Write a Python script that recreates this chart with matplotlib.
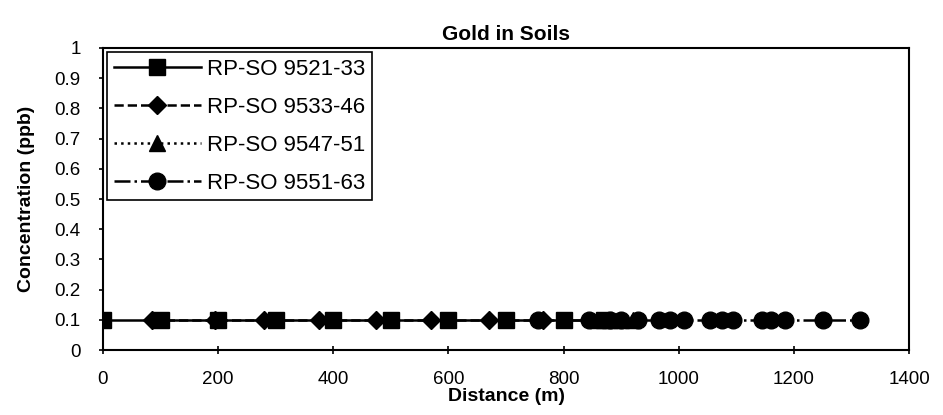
import matplotlib
matplotlib.use("Agg")
import matplotlib.pyplot as plt
from matplotlib.ticker import FuncFormatter

plt.rcParams['font.family'] = ['Liberation Sans', 'DejaVu Sans']

# distances (m) of each sample, all values at 0.1 ppb (detection limit)
labels = ['RP-SO 9521-33', 'RP-SO 9533-46', 'RP-SO 9547-51', 'RP-SO 9551-63']
dist_33 = [0, 100, 200, 300, 400, 500, 600, 700, 800, 870]
dist_46 = [85, 195, 280, 375, 475, 570, 670, 765]
dist_51 = [860, 880, 900, 920]
dist_63 = [755, 845, 880, 900, 930, 965, 985, 1010, 1055, 1075, 1095,
           1145, 1160, 1185, 1250, 1315]
au_33 = [0.1] * len(dist_33)
au_46 = [0.1] * len(dist_46)
au_51 = [0.1] * len(dist_51)
au_63 = [0.1] * len(dist_63)

fig = plt.figure(figsize=(9.43, 4.15), dpi=100)
ax = fig.add_axes([103 / 943, 65 / 415, 806 / 943, 302 / 415])

ax.plot(dist_33, au_33, '-', marker='s', color='black', lw=1.8, ms=11, label=labels[0])
ax.plot(dist_46, au_46, '--', marker='D', color='black', lw=1.8, ms=9, label=labels[1])
ax.plot(dist_51, au_51, ':', marker='^', color='black', lw=1.8, ms=11, label=labels[2])
ax.plot(dist_63, au_63, '-.', marker='o', color='black', lw=1.8, ms=12, label=labels[3])

ax.set_xlim(0, 1400)
ax.set_ylim(0, 1)
ax.set_xticks(range(0, 1401, 200))
ax.set_yticks([i / 10 for i in range(11)])
ax.yaxis.set_major_formatter(FuncFormatter(lambda v, p: f'{v:g}'))
ax.tick_params(axis='x', direction='inout', length=6, labelsize=13.5, width=1.2, pad=12)
ax.tick_params(axis='y', direction='out', length=3, labelsize=13.5, width=1.2, pad=13)
for s in ax.spines.values():
    s.set_linewidth(1.5)

ax.set_title('Gold in Soils', fontsize=15, fontweight='bold', pad=6)
ax.set_xlabel('Distance (m)', fontsize=14, fontweight='bold', labelpad=0)
ax.set_ylabel('Concentration (ppb)', fontsize=14, fontweight='bold', labelpad=14)

leg = ax.legend(loc='upper left', fontsize=16, fancybox=False, framealpha=1,
                edgecolor='black', handlelength=3.9, handletextpad=0.3,
                borderaxespad=0.2, borderpad=0.3, labelspacing=0.76)
leg.get_frame().set_linewidth(1.2)

fig.savefig('out.png', dpi=100)
